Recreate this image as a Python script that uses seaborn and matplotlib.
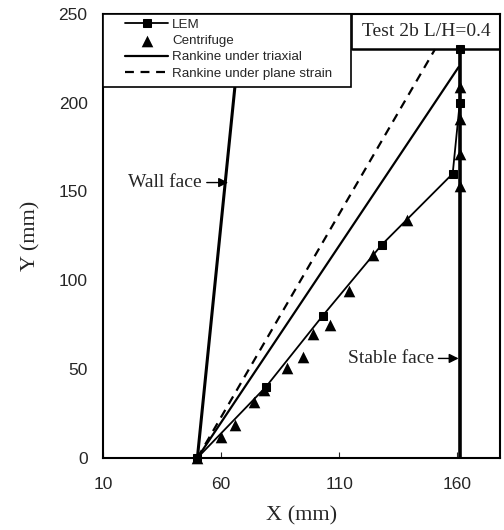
import matplotlib
matplotlib.use("Agg")
import matplotlib.pyplot as plt
from matplotlib.patches import Rectangle
import seaborn as sns
import pandas as pd

# LEM slip surface (squares)
lem_x = [50, 79, 103, 128, 158, 161, 161]
lem_y = [0, 40, 80, 120, 160, 200, 230]

# Centrifuge slip surface (triangles)
cent_x = [50, 60, 66, 74, 78, 88, 94.5, 99, 106, 114, 124.5, 138.5, 161, 161, 161, 161]
cent_y = [0, 12, 18.5, 31.5, 38, 50.5, 57, 69.5, 75, 94, 114.5, 134, 153, 171, 191, 209]

# Rankine lines
tri_x = [50, 160.5]
tri_y = [0, 220]
ps_x = [50, 150.5]
ps_y = [0, 230]

# wall and stable faces
wall_x = [50, 69]
wall_y = [0, 250]
stable_x = [161, 161]
stable_y = [0, 230]

lem = pd.DataFrame({"x": lem_x, "y": lem_y})
cent = pd.DataFrame({"x": cent_x, "y": cent_y})

sns.set_style("ticks")
serif = ["Liberation Serif", "DejaVu Serif"]
sans = ["Liberation Sans", "DejaVu Sans"]
plt.rcParams["font.family"] = sans

fig = plt.figure(figsize=(5.04, 5.30), dpi=100)
ax = fig.add_axes([0.204, 0.136, 0.788, 0.838])

sns.lineplot(x=wall_x, y=wall_y, color="black", lw=2.2, sort=False, estimator=None, ax=ax)
sns.lineplot(x=stable_x, y=stable_y, color="black", lw=2.6, sort=False, estimator=None, ax=ax)
sns.lineplot(x=tri_x, y=tri_y, color="black", lw=1.6, sort=False, estimator=None, ax=ax,
             label="Rankine under triaxial")
sns.lineplot(x=ps_x, y=ps_y, color="black", lw=1.6, ls=(0, (4, 3)), sort=False,
             estimator=None, ax=ax, label="Rankine under plane strain")
sns.lineplot(data=lem, x="x", y="y", color="black", lw=1.3, marker="s", markersize=6,
             markeredgecolor="black", sort=False, estimator=None, ax=ax, label="LEM",
             clip_on=False, zorder=4)
sns.scatterplot(data=cent, x="x", y="y", color="black", marker="^", s=70, linewidth=0,
                ax=ax, label="Centrifuge", clip_on=False, zorder=5)

ax.set_xlim(10, 178)
ax.set_ylim(0, 250)
ax.set_xticks([10, 60, 110, 160])
ax.set_yticks([0, 50, 100, 150, 200, 250])
ax.tick_params(direction="in", length=4, labelsize=12.5, width=0.8, pad=14)
ax.tick_params(axis="y", length=0, pad=11)
for s in ax.spines.values():
    s.set_linewidth(1.5)
    s.set_color("black")

ax.set_xlabel("X (mm)", fontsize=16, family=serif, labelpad=10)
ax.set_ylabel("Y (mm)", fontsize=16, family=serif, labelpad=13)

# title box in upper right corner
ax.plot([115.5, 178], [230, 230], color="black", lw=1.8)
ax.plot([115.5, 115.5], [230, 250], color="black", lw=1.2)
ax.text(147, 240, "Test 2b L/H=0.4", fontsize=14, family=serif, ha="center", va="center")

ax.annotate("Wall face", xy=(63, 155), xytext=(52, 155), fontsize=14, family=serif,
            ha="right", va="center",
            arrowprops=dict(arrowstyle="-|>", color="black", lw=1, shrinkA=1, shrinkB=0))
ax.annotate("Stable face", xy=(160.5, 56), xytext=(150, 56), fontsize=14, family=serif,
            ha="right", va="center",
            arrowprops=dict(arrowstyle="-|>", color="black", lw=1, shrinkA=1, shrinkB=0))

# legend box
ax.add_patch(Rectangle((0, 0.835), 0.625, 0.165, transform=ax.transAxes, facecolor="white",
                       edgecolor="black", lw=1.2, zorder=5.5, clip_on=False))
h, l = ax.get_legend_handles_labels()
order = ["LEM", "Centrifuge", "Rankine under triaxial", "Rankine under plane strain"]
hd = dict(zip(l, h))
leg = ax.legend([hd[k] for k in order], order, loc="upper left",
                bbox_to_anchor=(0.045, 1.0), borderaxespad=0.15,
                fontsize=9.6, frameon=False, handlelength=3.2,
                labelspacing=0.3, borderpad=0.2, handletextpad=0.3)
leg.set_zorder(6)

fig.savefig("out.png", dpi=100)
